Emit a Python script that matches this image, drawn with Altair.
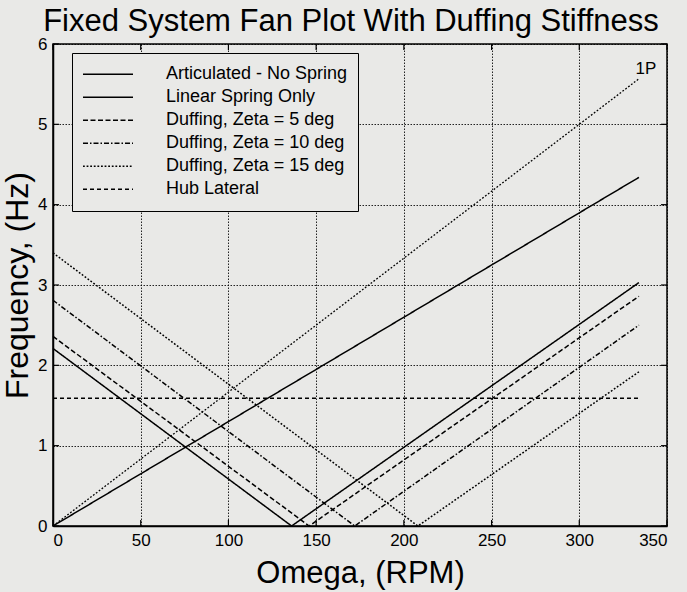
import altair as alt
import pandas as pd

FONT = "Liberation Sans, Arial, Helvetica, sans-serif"
BG = "#e9e9e7"

chart_title = "Fixed System Fan Plot With Duffing Stiffness"
x_title = "Omega, (RPM)"
y_title = "Frequency, (Hz)"

# Fixed-system lag mode frequencies (Hz) against rotor speed (RPM)
series = [
    "Articulated - No Spring",
    "Linear Spring Only",
    "Duffing, Zeta = 5 deg",
    "Duffing, Zeta = 10 deg",
    "Duffing, Zeta = 15 deg",
    "Hub Lateral",
]
art_rpm = [0, 334]
art_hz = [0.0, 4.34]
lin_rpm = [0, 136, 334]
lin_hz = [2.21, 0.0, 3.03]
d5_rpm = [0, 146, 334]
d5_hz = [2.36, 0.0, 2.86]
d10_rpm = [0, 172, 334]
d10_hz = [2.81, 0.0, 2.50]
d15_rpm = [0, 208, 334]
d15_hz = [3.40, 0.0, 1.92]
hub_rpm = [0, 334]
hub_hz = [1.59, 1.59]

# once-per-rev reference line
p1_rpm = [0, 334]
p1_hz = [0.0, 5.567]
p1_label = ["1P"]
p1_label_rpm = [332]
p1_label_hz = [5.69]

x_ticks = [0, 50, 100, 150, 200, 250, 300, 350]
y_ticks = [0, 1, 2, 3, 4, 5, 6]

dashes = [[1, 0], [1, 0], [5, 2.5], [5, 2, 1.5, 2], [1.8, 1.8], [4, 3]]

W, H = 614, 482

rows = []
for name, xs, ys in zip(
    series,
    [art_rpm, lin_rpm, d5_rpm, d10_rpm, d15_rpm, hub_rpm],
    [art_hz, lin_hz, d5_hz, d10_hz, d15_hz, hub_hz],
):
    for i, (xv, yv) in enumerate(zip(xs, ys)):
        rows.append({"series": name, "order": i, "rpm": xv, "hz": yv})
df = pd.DataFrame(rows)
p1_df = pd.DataFrame({"rpm": p1_rpm, "hz": p1_hz})
lab_df = pd.DataFrame({"rpm": p1_label_rpm, "hz": p1_label_hz, "text": p1_label})
xt_df = pd.DataFrame({"t": x_ticks})
yt_df = pd.DataFrame({"t": y_ticks})

x_scale = alt.Scale(domain=[0, 350], nice=False)
y_scale = alt.Scale(domain=[0, 6], nice=False)

x_axis = alt.Axis(
    values=x_ticks, format="d", title=x_title, grid=True, ticks=False,
    labelFontSize=17, labelPadding=6, titleFontSize=31, titlePadding=10,
    titleFontWeight="normal",
)
y_axis = alt.Axis(
    values=y_ticks, format="d", title=y_title, grid=True, ticks=False,
    labelFontSize=17, labelPadding=6, titleFontSize=32, titlePadding=3,
    titleFontWeight="normal",
)

lines = alt.Chart(df).mark_line(color="black", strokeWidth=1.5).encode(
    x=alt.X("rpm:Q", scale=x_scale, axis=x_axis),
    y=alt.Y("hz:Q", scale=y_scale, axis=y_axis),
    detail="series:N",
    order="order:O",
    strokeDash=alt.StrokeDash(
        "series:N",
        scale=alt.Scale(domain=series, range=dashes),
        sort=series,
        legend=alt.Legend(
            title=None, orient="none", legendX=19, legendY=9,
            symbolType="stroke", symbolSize=2500, symbolStrokeWidth=1.5,
            symbolStrokeColor="black", labelFont=FONT, labelFontSize=18,
            labelColor="black", labelOffset=32, labelLimit=500,
            padding=10, strokeColor="black", fillColor=BG,
            clipHeight=22.4, rowPadding=0,
        ),
    ),
)

p1 = alt.Chart(p1_df).mark_line(color="black", strokeWidth=1.3, strokeDash=[1.8, 1.8]).encode(
    x=alt.X("rpm:Q", scale=x_scale), y=alt.Y("hz:Q", scale=y_scale)
)
p1_text = alt.Chart(lab_df).mark_text(
    font=FONT, fontSize=17, color="black", align="left", baseline="middle"
).encode(x=alt.X("rpm:Q", scale=x_scale), y=alt.Y("hz:Q", scale=y_scale), text="text:N")

# short inward tick marks on all four sides of the box
tk = dict(color="black", strokeWidth=1.2)
bottom_t = alt.Chart(xt_df).mark_rule(**tk).encode(
    x=alt.X("t:Q", scale=x_scale), y=alt.value(H), y2=alt.value(H - 6))
top_t = alt.Chart(xt_df).mark_rule(**tk).encode(
    x=alt.X("t:Q", scale=x_scale), y=alt.value(0), y2=alt.value(6))
left_t = alt.Chart(yt_df).mark_rule(**tk).encode(
    y=alt.Y("t:Q", scale=y_scale), x=alt.value(0), x2=alt.value(6))
right_t = alt.Chart(yt_df).mark_rule(**tk).encode(
    y=alt.Y("t:Q", scale=y_scale), x=alt.value(W), x2=alt.value(W - 6))

chart = alt.layer(lines, p1, p1_text, bottom_t, top_t, left_t, right_t).properties(
    width=W, height=H,
    title=alt.TitleParams(chart_title, fontSize=31, fontWeight="normal", font=FONT,
                          color="black", anchor="middle", offset=-3, dx=-9),
    autosize=alt.AutoSizeParams(type="none"),
    padding={"left": 53, "top": 44, "right": 20, "bottom": 66},
).configure(
    background=BG, font=FONT,
).configure_view(
    stroke="black", strokeWidth=1.5, fill=BG,
).configure_axis(
    domainColor="black", domainWidth=1.5, labelColor="black", titleColor="black",
    labelFont=FONT, titleFont=FONT,
    gridColor="black", gridDash=[1.5, 1.5], gridWidth=1, gridOpacity=0.85,
)

chart.save("out.html", embed_options={"renderer": "svg", "actions": False})
